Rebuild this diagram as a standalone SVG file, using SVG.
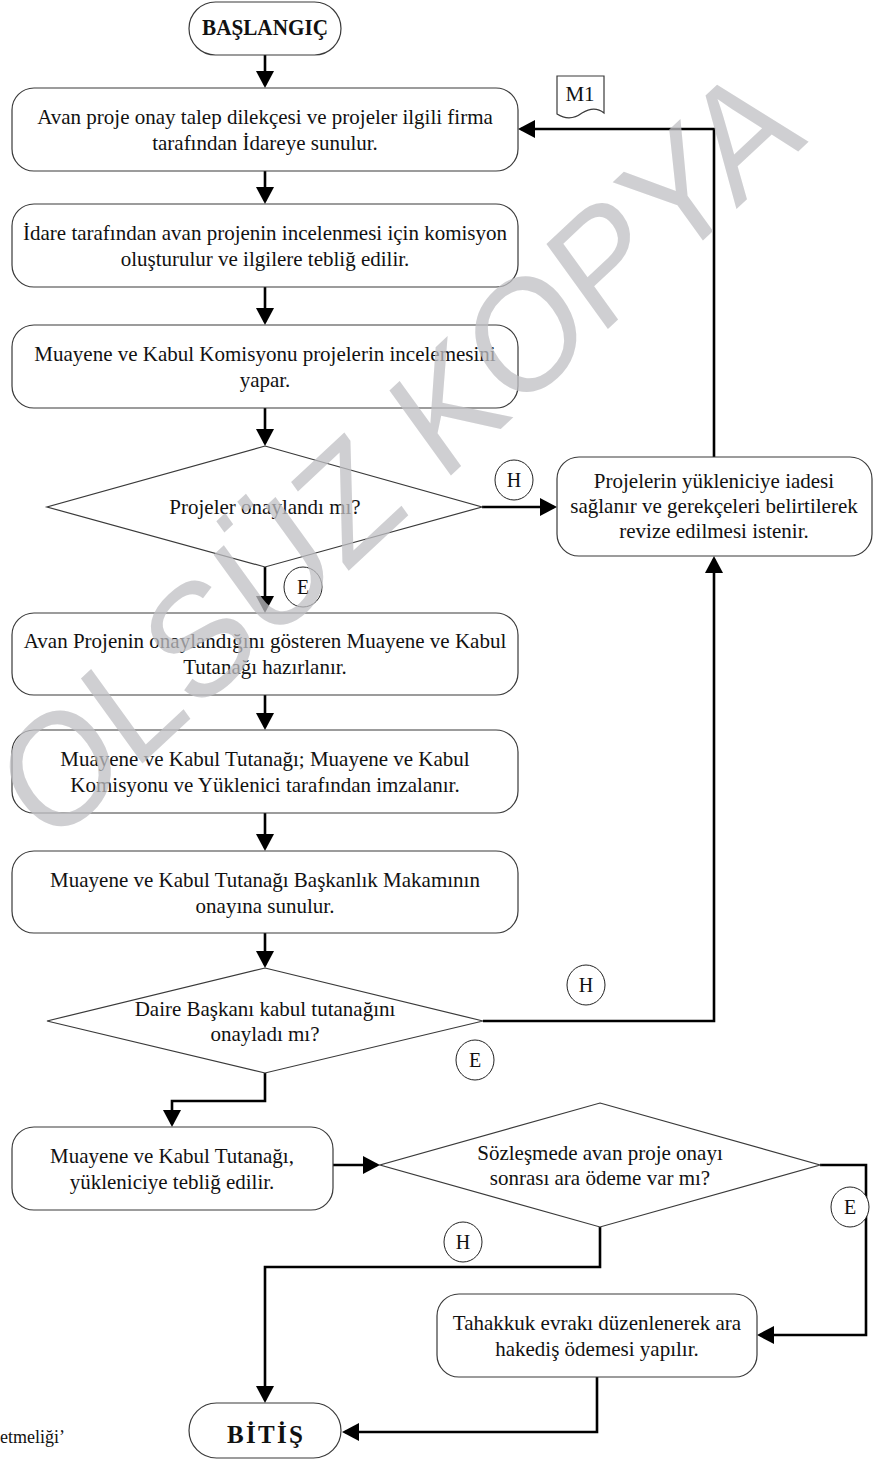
<svg xmlns="http://www.w3.org/2000/svg" width="883" height="1460" viewBox="0 0 883 1460">
<style>
.box{fill:#fff;stroke:#3a3a3a;stroke-width:1.2}
.t{font-family:"Liberation Serif","Times New Roman",serif;font-size:21px;fill:#111;text-anchor:middle}
.b{font-weight:bold}
.lab{font-family:"Liberation Serif","Times New Roman",serif;font-size:20px;fill:#111;text-anchor:middle}
.c{fill:#fff;stroke:#222;stroke-width:1}
.conn{fill:none;stroke:#000;stroke-width:2.6}
.wm{font-family:"Liberation Sans",Arial,sans-serif;font-size:160px;fill:#c0c0c4;opacity:0.75;text-anchor:middle}
</style>
<defs>
<marker id="ah" viewBox="0 0 17 18" refX="14" refY="9" markerWidth="17" markerHeight="18" markerUnits="userSpaceOnUse" orient="auto">
<path d="M0,0 L17,9 L0,18 z" fill="#000"/>
</marker>
</defs>
<rect width="883" height="1460" fill="#fff"/>

<g id="connectors">
<path class="conn" marker-end="url(#ah)" d="M265,55 V85"/>
<path class="conn" marker-end="url(#ah)" d="M265,171 V201"/>
<path class="conn" marker-end="url(#ah)" d="M265,287 V322"/>
<path class="conn" marker-end="url(#ah)" d="M265,408 V443"/>
<path class="conn" marker-end="url(#ah)" d="M265,567 V610"/>
<path class="conn" marker-end="url(#ah)" d="M265,695 V727"/>
<path class="conn" marker-end="url(#ah)" d="M265,813 V848"/>
<path class="conn" marker-end="url(#ah)" d="M265,933 V965"/>
<path class="conn" marker-end="url(#ah)" d="M482,507 H554"/>
<path class="conn" marker-end="url(#ah)" d="M714,457 V129 H521"/>
<path class="conn" marker-end="url(#ah)" d="M483,1021 H714 V559"/>
<path class="conn" marker-end="url(#ah)" d="M265,1073 V1101 H172 V1124"/>
<path class="conn" marker-end="url(#ah)" d="M333,1165 H377"/>
<path class="conn" marker-end="url(#ah)" d="M820,1165 H866 V1335 H760"/>
<path class="conn" marker-end="url(#ah)" d="M600,1227 V1267 H265 V1400"/>
<path class="conn" marker-end="url(#ah)" d="M597,1377 V1432 H345"/>
</g>

<g id="start">
<rect class="box" x="189" y="2" width="152" height="53" rx="26.5"/>
<text class="t b" x="265" y="35" style="font-size:24px" textLength="126" lengthAdjust="spacingAndGlyphs">BAŞLANGIÇ</text>
</g>

<g id="n1">
<rect class="box" x="12" y="88" width="506" height="83" rx="22"/>
<text class="t" x="265" y="124">Avan proje onay talep dilekçesi ve projeler ilgili firma</text>
<text class="t" x="265" y="150">tarafından İdareye sunulur.</text>
</g>

<g id="m1">
<path class="box" d="M557,76 H604 V113 C598,108 590,108 582,113 C574,119 565,119 557,114 Z"/>
<text class="t" x="580" y="101">M1</text>
</g>

<g id="n2">
<rect class="box" x="12" y="204" width="506" height="83" rx="22"/>
<text class="t" x="265" y="240">İdare tarafından avan projenin incelenmesi için komisyon</text>
<text class="t" x="265" y="266">oluşturulur ve ilgilere tebliğ edilir.</text>
</g>

<g id="n3">
<rect class="box" x="12" y="325" width="506" height="83" rx="22"/>
<text class="t" x="265" y="361">Muayene ve Kabul Komisyonu projelerin incelemesini</text>
<text class="t" x="265" y="387">yapar.</text>
</g>

<g id="d1">
<polygon class="box" points="265,446 482,507 265,567 47,507"/>
<text class="t" x="265" y="514">Projeler onaylandı mı?</text>
</g>

<g id="n7">
<rect class="box" x="557" y="457" width="315" height="99" rx="22"/>
<text class="t" x="714" y="488">Projelerin yükleniciye iadesi</text>
<text class="t" x="714" y="513">sağlanır ve gerekçeleri belirtilerek</text>
<text class="t" x="714" y="538">revize edilmesi istenir.</text>
</g>

<g id="n4">
<rect class="box" x="12" y="613" width="506" height="82" rx="22"/>
<text class="t" x="265" y="648">Avan Projenin onaylandığını gösteren Muayene ve Kabul</text>
<text class="t" x="265" y="674">Tutanağı hazırlanır.</text>
</g>

<g id="n5">
<rect class="box" x="12" y="730" width="506" height="83" rx="22"/>
<text class="t" x="265" y="766">Muayene ve Kabul Tutanağı; Muayene ve Kabul</text>
<text class="t" x="265" y="792">Komisyonu ve Yüklenici tarafından imzalanır.</text>
</g>

<g id="n6">
<rect class="box" x="12" y="851" width="506" height="82" rx="22"/>
<text class="t" x="265" y="887">Muayene ve Kabul Tutanağı Başkanlık Makamının</text>
<text class="t" x="265" y="913">onayına sunulur.</text>
</g>

<g id="d2">
<polygon class="box" points="265,968 483,1021 265,1073 47,1021"/>
<text class="t" x="265" y="1016">Daire Başkanı kabul tutanağını</text>
<text class="t" x="265" y="1041">onayladı mı?</text>
</g>

<g id="n8">
<rect class="box" x="12" y="1127" width="321" height="83" rx="22"/>
<text class="t" x="172" y="1163">Muayene ve Kabul Tutanağı,</text>
<text class="t" x="172" y="1189">yükleniciye tebliğ edilir.</text>
</g>

<g id="d3">
<polygon class="box" points="600,1103 820,1165 600,1227 380,1165"/>
<text class="t" x="600" y="1160">Sözleşmede avan proje onayı</text>
<text class="t" x="600" y="1185">sonrası ara ödeme var mı?</text>
</g>

<g id="n9">
<rect class="box" x="437" y="1294" width="320" height="83" rx="22"/>
<text class="t" x="597" y="1330">Tahakkuk evrakı düzenlenerek ara</text>
<text class="t" x="597" y="1356">hakediş ödemesi yapılır.</text>
</g>

<g id="end">
<rect class="box" x="189" y="1403" width="152" height="55" rx="27.5"/>
<text class="t b" x="265" y="1443" style="font-size:25px" textLength="76" lengthAdjust="spacing">BİTİŞ</text>
</g>

<g id="labels">
<ellipse class="c" cx="514" cy="480" rx="19" ry="20"/><text class="lab" x="514" y="487">H</text>
<ellipse class="c" cx="303" cy="587" rx="19" ry="20"/><text class="lab" x="303" y="594">E</text>
<ellipse class="c" cx="586" cy="985" rx="19" ry="20"/><text class="lab" x="586" y="992">H</text>
<ellipse class="c" cx="475" cy="1060" rx="19" ry="20"/><text class="lab" x="475" y="1067">E</text>
<ellipse class="c" cx="850" cy="1207" rx="19" ry="20"/><text class="lab" x="850" y="1214">E</text>
<ellipse class="c" cx="463" cy="1242" rx="19" ry="20"/><text class="lab" x="463" y="1249">H</text>
</g>

<text class="t" x="0" y="1443" style="text-anchor:start;font-size:18px">etmeliği’</text>

<g id="watermark">
<text class="wm" x="0" y="57" transform="translate(397 452) scale(0.88 1) rotate(-39.4)">OLSÜZ KOPYA</text>
</g>
</svg>
